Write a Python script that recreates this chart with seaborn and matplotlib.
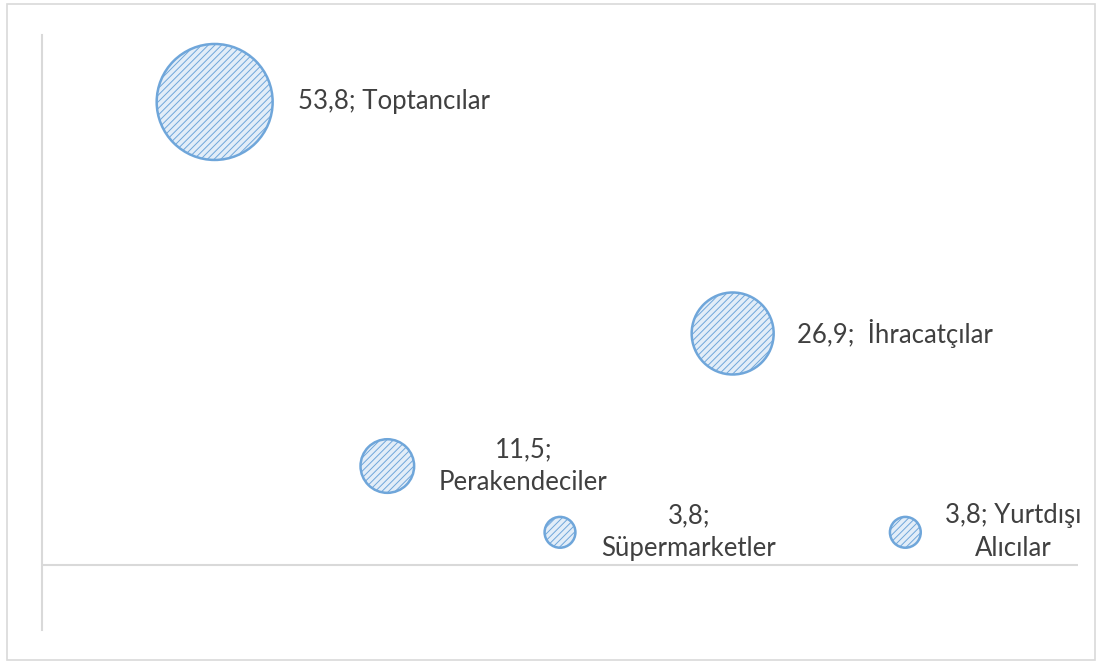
import matplotlib
matplotlib.use("Agg")
import matplotlib.pyplot as plt
import seaborn as sns
import pandas as pd
from matplotlib.patches import Rectangle

# Data
categories = ["Toptancılar", "Perakendeciler", "Süpermarketler", "İhracatçılar", "Yurtdışı Alıcılar"]
x_values = [1, 2, 3, 4, 5]
y_values = [53.8, 11.5, 3.8, 26.9, 3.8]
bubble_values = [53.8, 11.5, 3.8, 26.9, 3.8]
label_texts = ["53,8; Toptancılar", "11,5;\nPerakendeciler", "3,8;\nSüpermarketler",
               "26,9;  İhracatçılar", "3,8; Yurtdışı\nAlıcılar"]

df = pd.DataFrame({"x": x_values, "y": y_values, "v": bubble_values, "cat": categories})

sns.set_theme(style="white")
plt.rcParams["font.family"] = ["Lato", "DejaVu Sans"]
plt.rcParams["hatch.linewidth"] = 0.7

W, H = 1103, 664
fig = plt.figure(figsize=(W / 100, H / 100), dpi=100)
ax = fig.add_axes([42 / W, (H - 630) / H, (1078 - 42) / W, (630 - 35) / H])

k = 129.6  # points^2 per unit value (area proportional)
sns.scatterplot(data=df, x="x", y="y", size="v",
                sizes=(min(bubble_values) * k, max(bubble_values) * k),
                size_norm=(min(bubble_values), max(bubble_values)),
                color="#E2EDF8", edgecolor="#6FA6DA", linewidth=1.8,
                hatch="/////", legend=False, ax=ax, zorder=3)

ax.set_xlim(0, 6)
ax.set_ylim(-7.55, 61.58)
ax.set_xticks([])
ax.set_yticks([])
ax.set_xlabel("")
ax.set_ylabel("")
for s in ["top", "right", "bottom"]:
    ax.spines[s].set_visible(False)
ax.spines["left"].set_color("#D9D9D9")
ax.spines["left"].set_linewidth(1.5)
ax.axhline(0, color="#D9D9D9", linewidth=1.5, zorder=1)

# Labels (offsets in pixels to the right of bubble center)
offsets = [(83, 0), (136, 0), (129, 0), (64, 0), (108, 0)]
aligns = ["left", "center", "center", "left", "center"]
for xi, yi, txt, off, ha in zip(x_values, y_values, label_texts, offsets, aligns):
    ax.annotate(txt, (xi, yi), xytext=off, textcoords="offset pixels",
                ha=ha, va="center", fontsize=18.5, color="#404040",
                linespacing=1.4, zorder=4)

# outer border
fig.patches.append(Rectangle((7 / W, 4 / H), (1095 - 7) / W, (660 - 4) / H,
                             transform=fig.transFigure, fill=False,
                             edgecolor="#D9D9D9", linewidth=1.2))

fig.savefig("out.png", dpi=100)
